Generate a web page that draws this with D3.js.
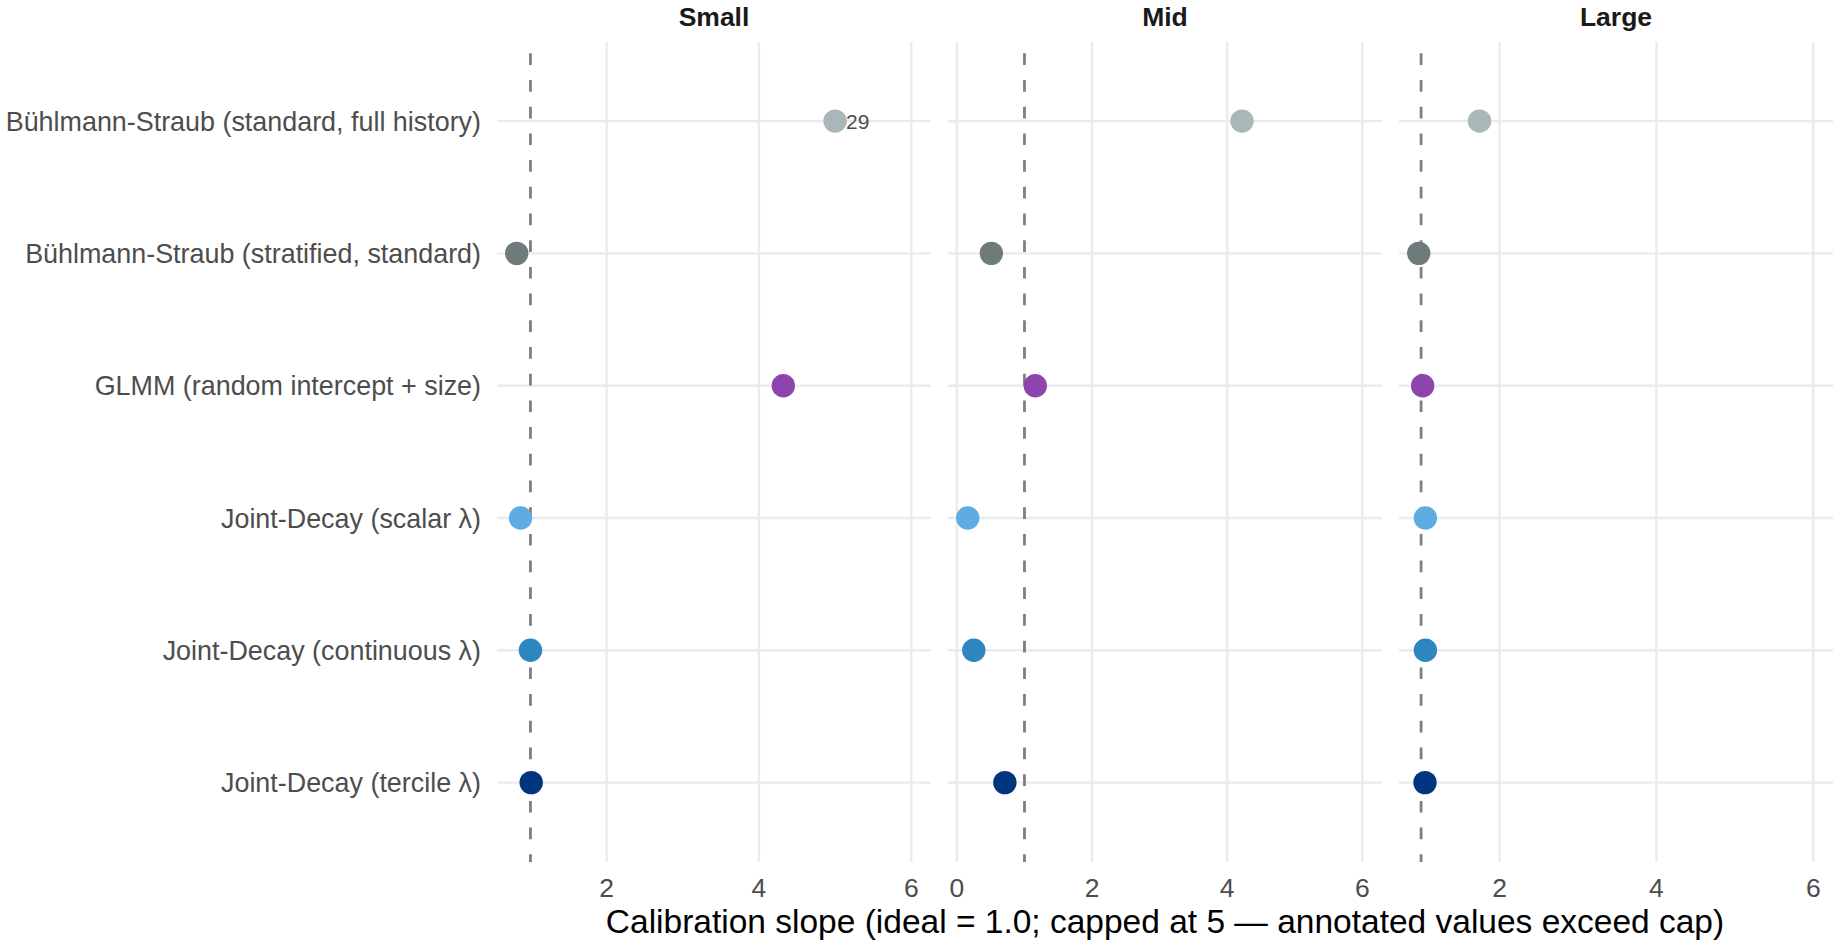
<!DOCTYPE html>
<head>
	<meta charset="utf-8">
	<title>Calibration slope by size band</title>

	<!-- D3.js, responsible for the graphics -->
	<script src="https://d3js.org/d3.v7.min.js"></script>

	<style>
		body { margin: 0; background: #fff; }
		text { font-family: "Liberation Sans", Arial, sans-serif; }
		.grid line { stroke: #EBEBEB; stroke-width: 2.4px; }
		.tickLabel { fill: #4D4D4D; font-size: 26.5px; }
		.methodLabel { fill: #4D4D4D; font-size: 26.9px; }
		.strip { fill: #1A1A1A; font-size: 26.5px; font-weight: bold; }
		.refLine { stroke: #7F7F7F; stroke-width: 2.8px; stroke-dasharray: 11.7 15; }
	</style>
</head>

<body>
<div id="viz"></div>

<script>
// methods, top to bottom
var methods = [
	"Bühlmann-Straub (standard, full history)",
	"Bühlmann-Straub (stratified, standard)",
	"GLMM (random intercept + size)",
	"Joint-Decay (scalar λ)",
	"Joint-Decay (continuous λ)",
	"Joint-Decay (tercile λ)"
];
var methodColors = ["#AAB7B8", "#6F7B7B", "#8E44AD", "#5DADE2", "#2E86C1", "#00357F"];

// facets
var sizes = ["Small", "Mid", "Large"];

// calibration slope per method (capped at 5), one array per size band
var slopeSmall = [5.0, 0.82, 4.32, 0.87, 1.0, 1.01];
var slopeMid   = [4.22, 0.51, 1.16, 0.16, 0.25, 0.71];
var slopeLarge = [1.745, 0.97, 1.02, 1.055, 1.055, 1.05];

// uncapped values, shown next to capped points
var exceedSmall = ["29", "", "", "", "", ""];
var exceedMid   = ["", "", "", "", "", ""];
var exceedLarge = ["", "", "", "", "", ""];

var tickValues = [0, 2, 4, 6];
var idealSlope = 1.0;
var axisUpper = 6;   // every panel's scale reaches up to 6

var slopes = [slopeSmall, slopeMid, slopeLarge];
var exceeds = [exceedSmall, exceedMid, exceedLarge];

// layout
var W = 1836, H = 940;
var panelLeft = 497, panelWidth = 434, panelGap = 17;
var plotTop = 41.7, plotBottom = 862;

var svg = d3.select("#viz")
	.append("svg")
	.attr("width", W)
	.attr("height", H);

// shared y scale (discrete methods, ggplot-like padding)
var y = d3.scalePoint()
	.domain(methods)
	.range([plotTop, plotBottom])
	.padding(0.6);

// method labels on the left
svg.append("g")
	.selectAll("text")
	.data(methods)
	.join("text")
	.attr("class", "methodLabel")
	.attr("x", 481)
	.attr("y", d => y(d))
	.attr("dy", "0.36em")
	.attr("text-anchor", "end")
	.text(d => d);

sizes.forEach(function(size, i) {
	var vals = slopes[i];
	var x0 = panelLeft + i * (panelWidth + panelGap);

	// free x scale per panel, 5% expansion
	var lo = d3.min(vals), hi = Math.max(d3.max(vals), axisUpper);
	var pad = (hi - lo) * 0.05;
	var x = d3.scaleLinear()
		.domain([lo - pad, hi + pad])
		.range([x0, x0 + panelWidth]);

	var ticks = tickValues.filter(t => t >= x.domain()[0] && t <= x.domain()[1]);

	var panel = svg.append("g");

	// gridlines
	var grid = panel.append("g").attr("class", "grid");
	grid.selectAll(".v")
		.data(ticks)
		.join("line")
		.attr("class", "v")
		.attr("x1", d => x(d)).attr("x2", d => x(d))
		.attr("y1", plotTop).attr("y2", plotBottom);
	grid.selectAll(".h")
		.data(methods)
		.join("line")
		.attr("class", "h")
		.attr("x1", x0).attr("x2", x0 + panelWidth)
		.attr("y1", d => y(d)).attr("y2", d => y(d));

	// tick labels
	panel.append("g")
		.selectAll("text")
		.data(ticks)
		.join("text")
		.attr("class", "tickLabel")
		.attr("x", d => x(d))
		.attr("y", 897)
		.attr("text-anchor", "middle")
		.text(d => d);

	// strip title
	panel.append("text")
		.attr("class", "strip")
		.attr("x", x0 + panelWidth / 2)
		.attr("y", 26)
		.attr("text-anchor", "middle")
		.text(size);

	// ideal slope reference
	panel.append("line")
		.attr("class", "refLine")
		.attr("x1", x(idealSlope)).attr("x2", x(idealSlope))
		.attr("y1", plotTop).attr("y2", plotBottom)
		.attr("stroke-dashoffset", 15.1);

	// points
	panel.append("g")
		.selectAll("circle")
		.data(vals)
		.join("circle")
		.attr("cx", d => x(d))
		.attr("cy", (d, j) => y(methods[j]))
		.attr("r", 11.7)
		.attr("fill", (d, j) => methodColors[j]);

	// labels for values above the cap
	panel.append("g")
		.selectAll("text")
		.data(vals)
		.join("text")
		.attr("x", d => x(d) + 11)
		.attr("y", (d, j) => y(methods[j]))
		.attr("dy", "0.36em")
		.attr("fill", "#4D4D4D")
		.style("font-size", "21px")
		.text((d, j) => exceeds[i][j]);
});

// x axis title
svg.append("text")
	.attr("x", panelLeft + (3 * panelWidth + 2 * panelGap) / 2)
	.attr("y", 933)
	.attr("text-anchor", "middle")
	.attr("fill", "#000")
	.style("font-size", "33.5px")
	.text("Calibration slope (ideal = 1.0; capped at 5 — annotated values exceed cap)");
</script>
</body>
</html>
